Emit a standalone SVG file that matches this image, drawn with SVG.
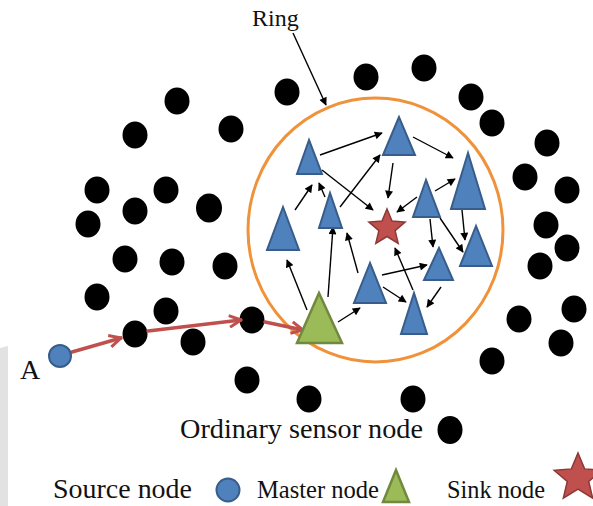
<svg xmlns="http://www.w3.org/2000/svg" width="593" height="506" viewBox="0 0 593 506">
  <style>
    .lbl { font-family: "Liberation Serif", "Times New Roman", serif; fill: #111; }
    .dot { fill: #000; }
    .tri { fill: #4F81BD; stroke: #385D8A; stroke-width: 2; stroke-linejoin: miter; }
    .master { fill: #9BBB59; stroke: #71893F; stroke-width: 2.5; }
    .sink { fill: #C0504D; stroke: #8C3836; stroke-width: 1.5; }
    .source { fill: #4F81BD; stroke: #385D8A; stroke-width: 2; }
    .link { stroke: #000; stroke-width: 1.4; fill: none; marker-end: url(#head); }
    .route { stroke: #C0504D; stroke-width: 3.5; fill: none; stroke-linecap: round; marker-end: url(#chev); }
    .ring { fill: none; stroke: #F0923A; stroke-width: 3; }
  </style>
  <defs>
    <marker id="head" viewBox="0 0 10 10" refX="9" refY="5" markerWidth="9" markerHeight="8" markerUnits="userSpaceOnUse" orient="auto">
      <path d="M0,0 L10,5 L0,10 Z" fill="#000"/>
    </marker>
    <marker id="chev" viewBox="0 0 12 12" refX="11" refY="6" markerWidth="14" markerHeight="14" markerUnits="userSpaceOnUse" orient="auto">
      <path d="M1,1 L11,6 L1,11" fill="none" stroke="#C0504D" stroke-width="2.6" stroke-linejoin="miter"/>
    </marker>
  </defs>

  <rect width="593" height="506" fill="#fff"/>
  <!-- faint grey strip at the lower left edge -->
  <path d="M0,348 L8,346 L8,506 L0,506 Z" fill="#e2e2e2"/>

  <!-- ring around the cluster -->
  <ellipse class="ring" cx="375.5" cy="230" rx="127.5" ry="132"/>

  <!-- ordinary sensor nodes -->
  <g id="sensors">
    <ellipse class="dot" cx="177" cy="101" rx="12.5" ry="13.5"/>
    <ellipse class="dot" cx="135" cy="135" rx="12.5" ry="13.5"/>
    <ellipse class="dot" cx="231" cy="129" rx="12.5" ry="13.5"/>
    <ellipse class="dot" cx="287" cy="92" rx="12.5" ry="13.5"/>
    <ellipse class="dot" cx="366" cy="77" rx="12.5" ry="13.5"/>
    <ellipse class="dot" cx="424" cy="68" rx="12.5" ry="13.5"/>
    <ellipse class="dot" cx="471" cy="97" rx="12.5" ry="13.5"/>
    <ellipse class="dot" cx="492" cy="123" rx="12.5" ry="13.5"/>
    <ellipse class="dot" cx="547" cy="143" rx="12.5" ry="13.5"/>
    <ellipse class="dot" cx="97" cy="190" rx="12.5" ry="13.5"/>
    <ellipse class="dot" cx="166" cy="190" rx="12.5" ry="13.5"/>
    <ellipse class="dot" cx="135" cy="211" rx="12.5" ry="13.5"/>
    <ellipse class="dot" cx="88" cy="224" rx="12.5" ry="13.5"/>
    <ellipse class="dot" cx="209" cy="208" rx="13" ry="14.5"/>
    <ellipse class="dot" cx="125" cy="259" rx="12.5" ry="13.5"/>
    <ellipse class="dot" cx="172" cy="262" rx="12.5" ry="13.5"/>
    <ellipse class="dot" cx="225" cy="266" rx="12.5" ry="13.5"/>
    <ellipse class="dot" cx="97" cy="297" rx="12.5" ry="13.5"/>
    <ellipse class="dot" cx="166" cy="311" rx="12.5" ry="13.5"/>
    <ellipse class="dot" cx="135" cy="334" rx="12.5" ry="13.5"/>
    <ellipse class="dot" cx="193" cy="342" rx="12.5" ry="13.5"/>
    <ellipse class="dot" cx="252" cy="320" rx="12.5" ry="13.5"/>
    <ellipse class="dot" cx="247" cy="380" rx="12.5" ry="13.5"/>
    <ellipse class="dot" cx="525" cy="177" rx="12.5" ry="13.5"/>
    <ellipse class="dot" cx="567" cy="190" rx="12.5" ry="13.5"/>
    <ellipse class="dot" cx="546" cy="225" rx="12.5" ry="13.5"/>
    <ellipse class="dot" cx="567" cy="248" rx="12.5" ry="13.5"/>
    <ellipse class="dot" cx="540" cy="266" rx="12.5" ry="13.5"/>
    <ellipse class="dot" cx="574" cy="309" rx="12.5" ry="13.5"/>
    <ellipse class="dot" cx="519" cy="319" rx="12.5" ry="13.5"/>
    <ellipse class="dot" cx="561" cy="343" rx="12.5" ry="13.5"/>
    <ellipse class="dot" cx="492" cy="361" rx="12.5" ry="13.5"/>
    <ellipse class="dot" cx="309" cy="399" rx="12.5" ry="13.5"/>
    <ellipse class="dot" cx="413" cy="399" rx="12.5" ry="13.5"/>
  </g>

  <!-- connectors -->
  <g id="connectors">
    <line class="route" x1="72" y1="352" x2="121" y2="338"/>
    <line class="route" x1="148" y1="331" x2="241" y2="320"/>
    <line class="route" x1="265" y1="322" x2="303" y2="330"/>

    <line class="link" x1="320" y1="155" x2="382" y2="133"/>
    <line class="link" x1="413" y1="137" x2="453" y2="158"/>
    <line class="link" x1="393" y1="163" x2="388" y2="198"/>
    <line class="link" x1="322" y1="170" x2="373" y2="210"/>
    <line class="link" x1="295" y1="210" x2="312" y2="185"/>
    <line class="link" x1="325" y1="197" x2="319" y2="183"/>
    <line class="link" x1="340" y1="207" x2="380" y2="155"/>
    <line class="link" x1="417" y1="197" x2="397" y2="212"/>
    <line class="link" x1="435" y1="191" x2="455" y2="179"/>
    <line class="link" x1="462" y1="210" x2="465" y2="240"/>
    <line class="link" x1="430" y1="219" x2="433" y2="247"/>
    <line class="link" x1="440" y1="218" x2="463" y2="252"/>
    <line class="link" x1="382" y1="275" x2="427" y2="265"/>
    <line class="link" x1="413" y1="290" x2="395" y2="248"/>
    <line class="link" x1="383" y1="287" x2="406" y2="302"/>
    <line class="link" x1="441" y1="287" x2="427" y2="307"/>
    <line class="link" x1="358" y1="273" x2="347" y2="233"/>
    <line class="link" x1="328" y1="297" x2="333" y2="227"/>
    <line class="link" x1="307" y1="310" x2="287" y2="260"/>
    <line class="link" x1="338" y1="322" x2="360" y2="308"/>

    <line class="link" x1="293" y1="33" x2="326" y2="105"/>
  </g>

  <!-- cluster members -->
  <g id="t1"><polygon class="tri" points="309,140 297,174 322,174"/></g>
  <g id="t2"><polygon class="tri" points="399,117 383,155 415,155"/></g>
  <g id="t3"><polygon class="tri" points="468,153 451,209 485,209"/></g>
  <g id="t4"><polygon class="tri" points="426,180 413,217 440,217"/></g>
  <g id="t5"><polygon class="tri" points="330,193 319,228 342,228"/></g>
  <g id="t6"><polygon class="tri" points="283,207 267,250 299,250"/></g>
  <g id="t7"><polygon class="tri" points="476,226 460,266 492,266"/></g>
  <g id="t8"><polygon class="tri" points="439,248 424,280 453,280"/></g>
  <g id="t9"><polygon class="tri" points="370,263 354,303 386,303"/></g>
  <g id="t10"><polygon class="tri" points="414,293 401,334 427,334"/></g>

  <!-- master node -->
  <g id="master"><polygon class="master" points="319,293 297,343 342,343"/></g>

  <!-- sink node -->
  <g id="sink">
    <path class="sink" transform="translate(387,228)" d="M0,-19 L5,-6.9 L18.1,-5.9 L8.1,2.6 L11.2,15.4 L0,8.5 L-11.2,15.4 L-8.1,2.6 L-18.1,-5.9 L-5,-6.9 Z"/>
  </g>

  <!-- source node A -->
  <g id="source">
    <circle class="source" cx="60" cy="356" r="11"/>
    <text class="lbl" x="20" y="379" font-size="28">A</text>
  </g>

  <g id="ring-label">
    <text class="lbl" x="252" y="26" font-size="24">Ring</text>
  </g>

  <!-- legend -->
  <g id="legend">
    <text class="lbl" x="180" y="438" font-size="28" textLength="243" lengthAdjust="spacingAndGlyphs">Ordinary sensor node</text>
    <ellipse class="dot" cx="450" cy="430" rx="12.5" ry="14"/>
    <text class="lbl" x="53" y="498" font-size="27" textLength="139" lengthAdjust="spacingAndGlyphs">Source node</text>
    <circle class="source" cx="228" cy="490" r="11.5"/>
    <text class="lbl" x="257" y="498" font-size="26" textLength="122" lengthAdjust="spacingAndGlyphs">Master node</text>
    <polygon class="master" points="396,470 383,502 409,502"/>
    <text class="lbl" x="447" y="498" font-size="26" textLength="98" lengthAdjust="spacingAndGlyphs">Sink node</text>
    <path class="sink" transform="translate(578,478)" d="M0,-25 L6.6,-9.1 L23.8,-7.7 L10.7,3.5 L14.7,20.2 L0,11.2 L-14.7,20.2 L-10.7,3.5 L-23.8,-7.7 L-6.6,-9.1 Z"/>
  </g>
</svg>
